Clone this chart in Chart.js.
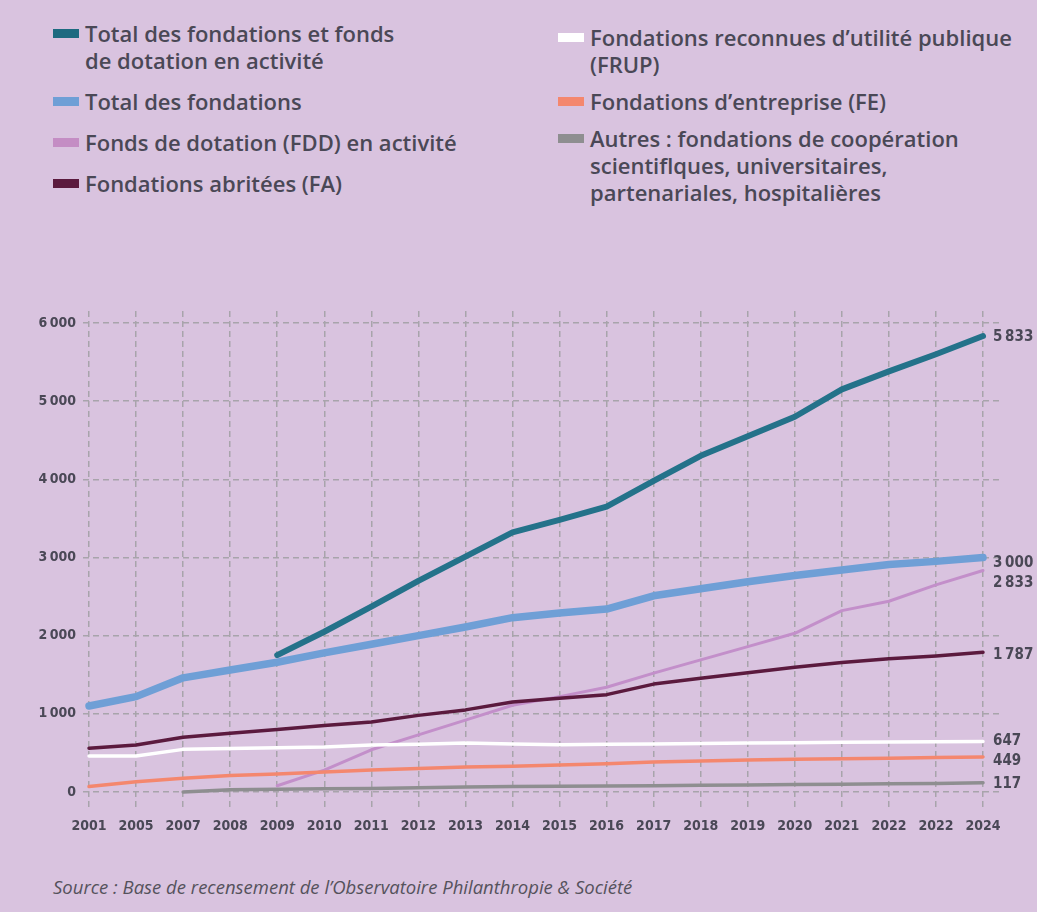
<!DOCTYPE html>
<html lang="fr">
<head>
<meta charset="utf-8">
<title>Fondations et fonds de dotation</title>
<script src="https://cdn.jsdelivr.net/npm/chart.js@4"></script>
<style>
    html, body { margin: 0; padding: 0; }
    body {
        width: 1037px;
        height: 912px;
        background: #d9c3df;
        position: relative;
        overflow: hidden;
        font-family: "Open Sans", "Noto Sans", sans-serif;
        color: #4a4856;
    }
    .legend { position: absolute; }
    .legend.left { left: 53px; top: 20px; width: 480px; }
    .legend.right { left: 558px; top: 24px; width: 475px; }
    .item { position: relative; padding-left: 32px; font-size: 22px; font-weight: 600; line-height: 27px; white-space: nowrap; }
    .item .sw { position: absolute; left: 0; top: 9px; width: 26px; height: 9px; }
    .legend.left .item { margin-bottom: 14px; }
    .legend.right .item { margin-bottom: 10px; }
    #chartBox { position: absolute; left: 0; top: 290px; width: 1037px; height: 560px; }
    .source { position: absolute; left: 53px; top: 874px; font-size: 18.5px; font-style: italic; color: #55525c; }
</style>
</head>
<body>
<div class="legend left" id="legendLeft"></div>
<div class="legend right" id="legendRight"></div>
<div id="chartBox"><canvas id="foundationsChart"></canvas></div>
<div class="source">Source : Base de recensement de l’Observatoire Philanthropie &amp; Société</div>

<script>
// Années affichées sous l'axe (l'intitulé 2022 apparaît deux fois)
const years = ['2001', '2005', '2007', '2008', '2009', '2010', '2011', '2012', '2013', '2014',
               '2015', '2016', '2017', '2018', '2019', '2020', '2021', '2022', '2022', '2024'];

const yTicks = [0, 1000, 2000, 3000, 4000, 5000, 6000];

// Séries
const totalFondationsFdd = [null, null, null, null, 1750, 2050, 2370, 2700, 3010, 3320,
                            3480, 3650, 3980, 4300, 4550, 4800, 5150, 5380, 5600, 5833];
const totalFondations = [1100, 1220, 1460, 1560, 1660, 1780, 1890, 2000, 2110, 2230,
                         2290, 2340, 2510, 2600, 2690, 2770, 2840, 2910, 2950, 3000];
const fdd = [null, null, null, null, 80, 280, 540, 730, 920, 1110,
             1220, 1340, 1520, 1690, 1860, 2030, 2320, 2440, 2650, 2833];
const fa = [560, 600, 700, 750, 800, 850, 895, 980, 1050, 1150,
            1200, 1245, 1380, 1455, 1525, 1595, 1655, 1705, 1740, 1787];
const frup = [460, 460, 545, 555, 565, 575, 600, 610, 625, 615,
              605, 610, 615, 620, 625, 630, 635, 640, 643, 647];
const fe = [70, 130, 175, 210, 230, 255, 280, 300, 320, 330,
            345, 360, 385, 395, 410, 420, 425, 432, 440, 449];
const autres = [null, null, 0, 30, 35, 40, 45, 55, 65, 70,
                72, 76, 80, 85, 90, 95, 100, 105, 110, 117];

const seriesLabels = [
    'Total des fondations et fonds de dotation en activité',
    'Total des fondations',
    'Fonds de dotation (FDD) en activité',
    'Fondations abritées (FA)',
    'Fondations reconnues d’utilité publique (FRUP)',
    'Fondations d’entreprise (FE)',
    'Autres : fondations de coopération scientiflques, universitaires, partenariales, hospitalières'
];

// Libellés de légende, avec leurs retours à la ligne
const legendTexts = [
    'Total des fondations et fonds<br>de dotation en activité',
    'Total des fondations',
    'Fonds de dotation (FDD) en activité',
    'Fondations abritées (FA)',
    'Fondations reconnues d’utilité publique<br>(FRUP)',
    'Fondations d’entreprise (FE)',
    'Autres : fondations de coopération<br>scientiflques, universitaires,<br>partenariales, hospitalières'
];

const seriesValues = [totalFondationsFdd, totalFondations, fdd, fa, frup, fe, autres];
const lineColors = ['#24728a', '#6f9fd6', '#c38fca', '#5b1a3e', '#ffffff', '#f4876e', '#8e8e90'];
const swatchColors = ['#1d6a80', '#6f9fd6', '#c48dc4', '#5b1a3e', '#ffffff', '#f4876e', '#8e8e90'];
const lineWidths = [6, 7.5, 3, 3.5, 3.5, 3.5, 3.5];

// Décalage vertical des valeurs finales pour éviter les chevauchements
const endLabelShift = [1, 6, 13, 3, 0, 4, 1];

// Construction de la légende HTML sur deux colonnes
function buildLegend() {
    const left = document.getElementById('legendLeft');
    const right = document.getElementById('legendRight');
    legendTexts.forEach((text, i) => {
        const el = document.createElement('div');
        el.className = 'item';
        el.innerHTML = `<span class="sw" style="background:${swatchColors[i]}"></span>${text}`;
        (i < 4 ? left : right).appendChild(el);
    });
}

const formatNumber = v => String(v).replace(/\B(?=(\d{3})+(?!\d))/g, '\u2009');

// Plugin : valeur 2024 à droite de chaque courbe
const endLabels = {
    id: 'endLabels',
    afterDatasetsDraw(chart) {
        const ctx = chart.ctx;
        ctx.save();
        ctx.font = 'bold 15px "Liberation Sans Narrow", "DejaVu Sans Condensed", sans-serif';
        ctx.fillStyle = '#4a4856';
        ctx.textBaseline = 'middle';
        ctx.textAlign = 'left';
        chart.data.datasets.forEach((ds, i) => {
            const meta = chart.getDatasetMeta(i);
            const last = meta.data[meta.data.length - 1];
            const value = ds.data[ds.data.length - 1].y;
            ctx.fillText(formatNumber(value), last.x + 10, last.y + endLabelShift[i]);
        });
        ctx.restore();
    }
};

const gridStyle = {
    color: '#a8a4ab',
    lineWidth: 1.5,
    drawTicks: false
};

const tickFont = { family: '"Liberation Sans Narrow", "DejaVu Sans Condensed", sans-serif', size: 14, weight: 'bold' };

window.addEventListener('DOMContentLoaded', () => {
    buildLegend();

    const datasets = seriesValues.map((values, i) => ({
        label: seriesLabels[i],
        data: values.map((v, idx) => ({ x: idx, y: v })),
        borderColor: lineColors[i],
        backgroundColor: lineColors[i],
        borderWidth: lineWidths[i],
        borderCapStyle: 'round',
        borderJoinStyle: 'round',
        pointRadius: 0,
        tension: 0,
        fill: false,
        order: 7 - i
    }));

    new Chart(document.getElementById('foundationsChart'), {
        type: 'line',
        data: { datasets },
        options: {
            responsive: true,
            maintainAspectRatio: false,
            animation: false,
            layout: { padding: { top: 21, right: 37, bottom: 12, left: 0 } },
            scales: {
                x: {
                    type: 'linear',
                    min: -0.128,
                    max: 19.361,
                    afterBuildTicks: axis => { axis.ticks = years.map((_, i) => ({ value: i })); },
                    afterFit: axis => { axis.height = 30; },
                    grid: gridStyle,
                    border: { display: false, dash: [6, 4] },
                    ticks: {
                        autoSkip: false,
                        maxRotation: 0,
                        padding: 10,
                        color: '#4a4856',
                        font: tickFont,
                        callback: value => years[value]
                    }
                },
                y: {
                    min: -205,
                    max: 6153,
                    afterBuildTicks: axis => { axis.ticks = yTicks.map(v => ({ value: v })); },
                    afterFit: axis => { axis.width = 83; },
                    grid: gridStyle,
                    border: { display: false, dash: [6, 4] },
                    ticks: {
                        padding: 7,
                        color: '#4a4856',
                        font: tickFont,
                        callback: value => formatNumber(value)
                    }
                }
            },
            plugins: {
                legend: { display: false },
                tooltip: { enabled: false }
            }
        },
        plugins: [endLabels]
    });
});
</script>
</body>
</html>
